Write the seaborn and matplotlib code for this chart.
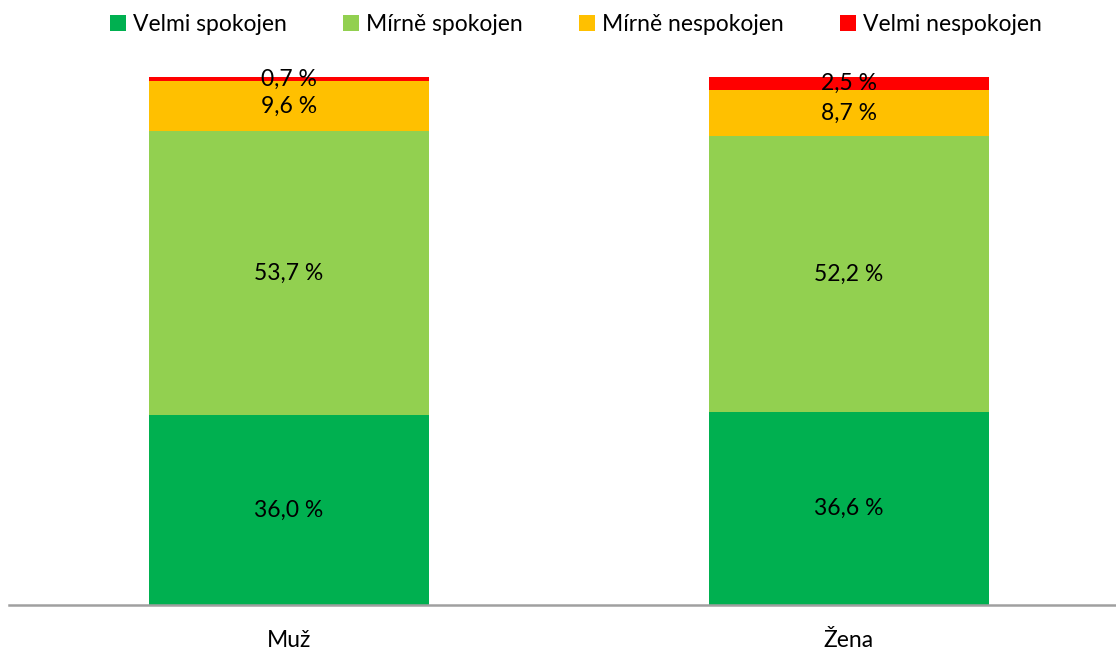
import numpy as np
import pandas as pd
import matplotlib
matplotlib.use("Agg")
import matplotlib.pyplot as plt
import seaborn as sns

# data
categories = ["Muž", "Žena"]
series_names = ["Velmi spokojen", "Mírně spokojen", "Mírně nespokojen", "Velmi nespokojen"]
velmi_spokojen = [36.0, 36.6]
mirne_spokojen = [53.7, 52.2]
mirne_nespokojen = [9.6, 8.7]
velmi_nespokojen = [0.7, 2.5]
colors = ["#00B050", "#92D050", "#FFC000", "#FF0000"]

sns.set_theme(style="white")
plt.rcParams['font.family'] = ['Lato', 'DejaVu Sans']

values = np.array([velmi_spokojen, mirne_spokojen, mirne_nespokojen, velmi_nespokojen])
cum = np.cumsum(values, axis=0)

fig = plt.figure(figsize=(11.16, 6.5), dpi=100)
ax = fig.add_axes([9 / 1116, 45 / 650, 1120 / 1116, 528 / 650])

# stacked bars: draw cumulative totals from the top down
for i in range(len(series_names) - 1, -1, -1):
    df = pd.DataFrame({"kat": categories, "val": cum[i]})
    sns.barplot(data=df, x="kat", y="val", color=colors[i], width=0.5,
                saturation=1, ax=ax, label=series_names[i], linewidth=0)

# popisky segmentů
for i in range(len(series_names)):
    for j in range(len(categories)):
        v = values[i, j]
        y = cum[i, j] - v / 2
        txt = f"{v:.1f}".replace(".", ",") + " %"
        ax.text(j, y, txt, ha="center", va="center", fontsize=16.5, color="black")

ax.set_xlim(-0.5, 1.5)
ax.set_ylim(0, 100)
ax.set_xlabel("")
ax.set_ylabel("")
ax.set_yticks([])
ax.tick_params(axis="x", length=0, pad=18, labelsize=16.5, labelcolor="black")
for s in ["top", "right", "left"]:
    ax.spines[s].set_visible(False)
ax.spines["bottom"].set_color("#A0A0A0")
ax.spines["bottom"].set_linewidth(1.8)

handles, labels = ax.get_legend_handles_labels()
order = [labels.index(n) for n in series_names]
fig.legend([handles[k] for k in order], series_names, loc="center", bbox_to_anchor=(0.516, 0.963),
           ncol=4, frameon=False, fontsize=16.5, handlelength=0.7, handleheight=0.7,
           handletextpad=0.3, columnspacing=2.45, labelcolor="black")
if ax.get_legend():
    ax.get_legend().remove()

fig.savefig("out.png", dpi=100)
